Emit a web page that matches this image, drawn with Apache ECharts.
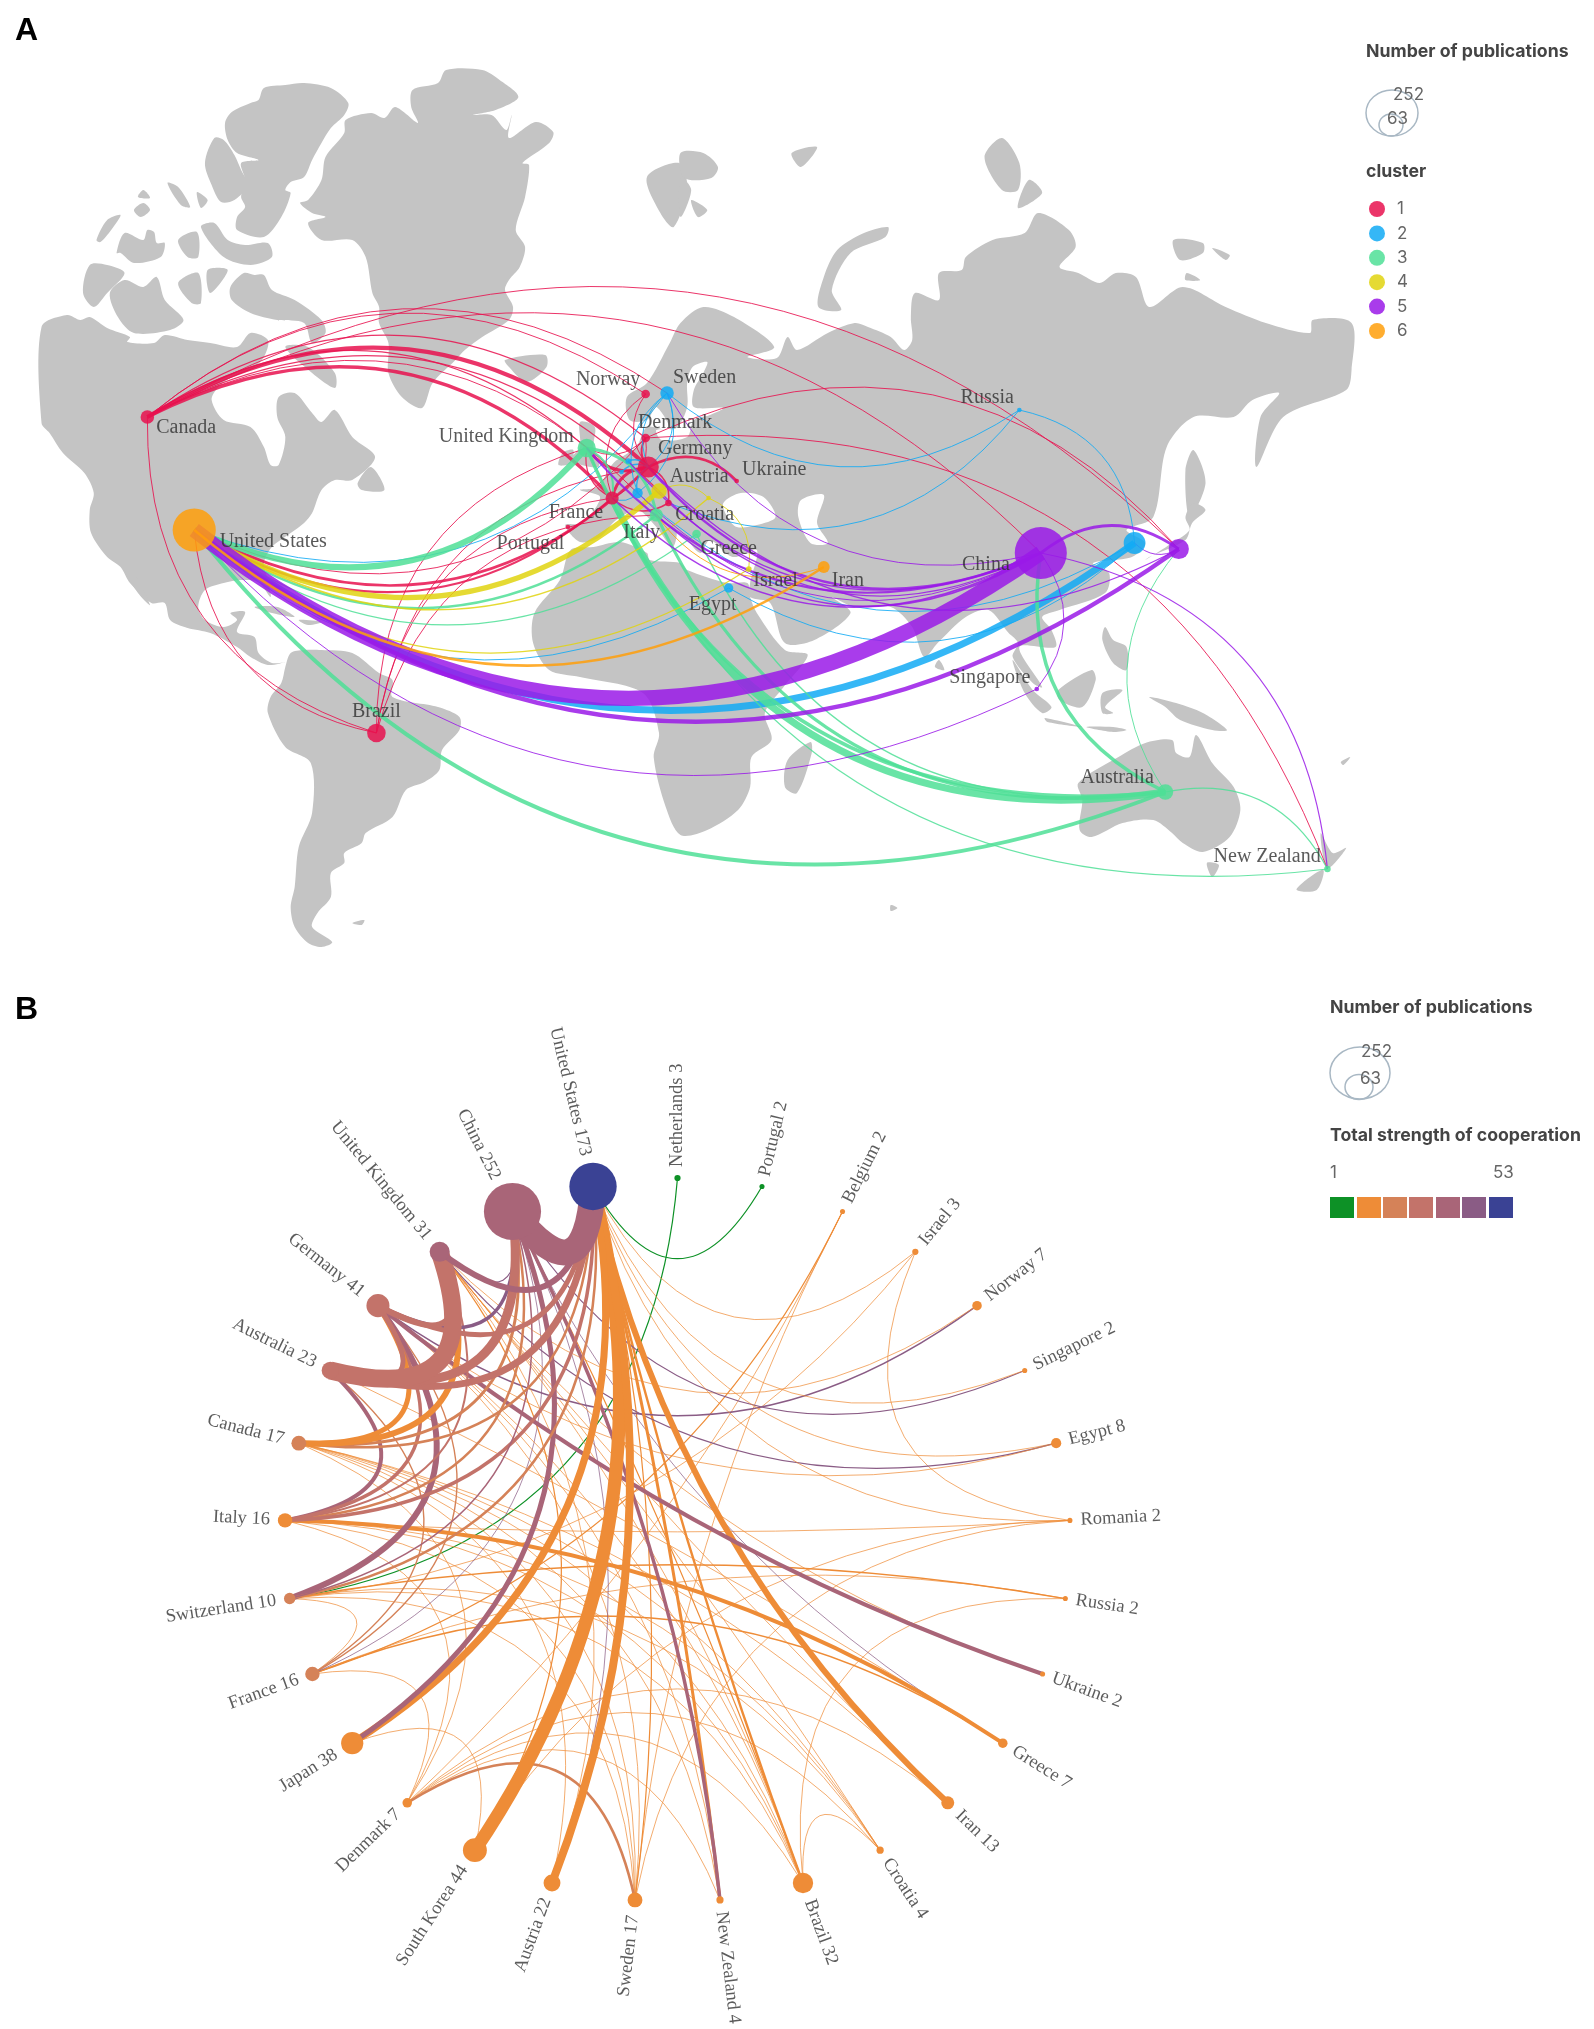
<!DOCTYPE html>
<html lang="en">
<head>
    <meta charset="UTF-8">
    <title>Country cooperation map and circle network</title>
    <script src="https://cdn.jsdelivr.net/npm/echarts@6/dist/echarts.min.js"></script>
    <style>
        html, body { margin: 0; padding: 0; background: #fff; }
        #main { width: 1594px; height: 2029px; }
    </style>
</head>
<body>
<div id="main"></div>
<script>
    // publications per country, clockwise from the top of the circle in panel B
    const countries = ['Netherlands', 'Portugal', 'Belgium', 'Israel', 'Norway', 'Singapore', 'Egypt', 'Romania', 'Russia', 'Ukraine',
        'Greece', 'Iran', 'Croatia', 'Brazil', 'New Zealand', 'Sweden', 'Austria', 'South Korea', 'Denmark', 'Japan',
        'France', 'Switzerland', 'Italy', 'Canada', 'Australia', 'Germany', 'United Kingdom', 'China', 'United States'];
    const publications = [3, 2, 2, 3, 7, 2, 8, 2, 2, 2, 7, 13, 4, 32, 4, 17, 22, 44, 7, 38, 16, 10, 16, 17, 23, 41, 31, 252, 173];
    const nodeStrengthBin = [0, 0, 1, 1, 1, 1, 1, 1, 1, 1, 1, 1, 1, 1, 1, 1, 1, 1, 1, 1, 2, 2, 1, 2, 3, 3, 4, 4, 6];

    // panel A: map units, x runs 0-1190 and y 0-1000 over the top part of the page
    const mapNames = ['Canada', 'United States', 'Brazil', 'United Kingdom', 'Germany', 'France', 'Norway', 'Sweden', 'Denmark', 'Netherlands',
        'Belgium', 'Switzerland', 'Austria', 'Croatia', 'Ukraine', 'Romania', 'Italy', 'Greece', 'Israel', 'Egypt',
        'Portugal', 'Iran', 'China', 'South Korea', 'Japan', 'Singapore', 'Russia', 'Australia', 'New Zealand'];
    const mapX = [110, 145, 281, 438, 484, 457, 482, 498, 482, 469, 464, 476, 492, 499, 550, 529, 490, 520, 559, 544, 424, 615, 777, 847, 880, 774, 761, 870, 991];
    const mapY = [417, 530, 733, 448, 467, 498, 394, 393, 438, 461, 472, 493, 491, 503, 481, 498, 515, 534, 569, 588, 527, 567, 553, 543, 549, 689, 410, 792, 869];
    const mapCluster = [1, 6, 1, 3, 1, 1, 1, 2, 1, 2, 2, 2, 4, 1, 1, 4, 3, 3, 4, 2, 1, 6, 5, 2, 5, 5, 2, 3, 3];
    const clusterNames = ['1', '2', '3', '4', '5', '6'];
    const clusterColors = ['#e8124f', '#12aaf5', '#4fdf96', '#e0d30f', '#9a1ae8', '#ff9f0a'];

    const mapLabelNames = ['Canada', 'United States', 'Brazil', 'United Kingdom', 'Norway', 'Sweden', 'Denmark', 'Germany', 'Austria', 'Ukraine', 'France', 'Portugal',
        'Italy', 'Croatia', 'Greece', 'Israel', 'Iran', 'Egypt', 'China', 'Russia', 'Singapore', 'Australia', 'New Zealand'];
    const mapLabelX = [139, 204, 281, 378, 454, 526, 504, 519, 522, 578, 430, 396, 479, 526, 544, 579, 633, 532, 736, 737, 739, 834, 946];
    const mapLabelY = [428, 542, 712, 437, 380, 378, 423, 449, 477, 470, 513, 544, 533, 515, 549, 581, 581, 605, 565, 398, 678, 778, 857];

    // panel A links: from, to, width, cluster. the arc bulges to the left of the travel direction
    const mapLinks = [
        ['Canada', 'Japan', 1, 1], ['Canada', 'China', 1, 1], ['Denmark', 'New Zealand', 1, 1], ['Denmark', 'Japan', 1, 1],
        ['Canada', 'Norway', 1, 1], ['Canada', 'Sweden', 1, 1], ['Canada', 'Denmark', 1.2, 1], ['Canada', 'United Kingdom', 1.2, 1],
        ['Canada', 'Switzerland', 1, 1], ['Canada', 'Austria', 1.2, 1], ['Canada', 'Germany', 4, 1], ['Canada', 'France', 3.2, 1],
        ['Brazil', 'Germany', 1, 1], ['Brazil', 'France', 1, 1], ['Brazil', 'United Kingdom', 1, 1], ['Brazil', 'Italy', 1, 1],
        ['Brazil', 'United States', 1, 1], ['Brazil', 'Canada', 1, 1],
        ['Germany', 'United Kingdom', 3, 1], ['France', 'Germany', 3, 1], ['Germany', 'Denmark', 2, 1], ['Germany', 'Ukraine', 2.6, 1],
        ['Germany', 'Norway', 1, 1], ['France', 'Norway', 1, 1], ['France', 'United Kingdom', 1.2, 1], ['Denmark', 'United Kingdom', 1, 1],
        ['Croatia', 'France', 1.5, 1], ['Germany', 'Croatia', 1.5, 1], ['Denmark', 'France', 1, 1],
        ['Germany', 'United States', 2.6, 1], ['France', 'United States', 2.2, 1], ['Denmark', 'United States', 1, 1],
        ['Germany', 'Sweden', 1, 2], ['Sweden', 'Germany', 1, 2], ['Switzerland', 'Sweden', 1, 2], ['Sweden', 'Switzerland', 1, 2],
        ['Netherlands', 'Germany', 1.4, 2], ['Belgium', 'Germany', 1.4, 2], ['Switzerland', 'Germany', 1.4, 2], ['Switzerland', 'France', 1, 2],
        ['Sweden', 'United States', 1, 2], ['Egypt', 'United States', 1, 2], ['South Korea', 'Egypt', 1, 2], ['South Korea', 'Switzerland', 1, 2],
        ['Russia', 'South Korea', 1, 2], ['Russia', 'Sweden', 1, 2], ['Russia', 'Croatia', 1, 2], ['South Korea', 'United States', 7, 2],
        ['United Kingdom', 'United States', 6, 3], ['United Kingdom', 'Italy', 3, 3], ['United Kingdom', 'France', 2, 3],
        ['Australia', 'United Kingdom', 3.5, 3], ['Australia', 'Italy', 3, 3], ['Australia', 'France', 7, 3], ['Australia', 'Greece', 1.5, 3],
        ['New Zealand', 'United Kingdom', 1.2, 3], ['Australia', 'United States', 4, 3], ['Italy', 'United States', 2.4, 3], ['Greece', 'United States', 1.2, 3],
        ['Australia', 'China', 3.5, 3], ['Australia', 'Japan', 1, 3], ['Australia', 'New Zealand', 1.2, 3],
        ['Austria', 'United States', 5, 4], ['Romania', 'United States', 1.5, 4], ['Israel', 'United States', 1.2, 4], ['Austria', 'Romania', 1, 4], ['Romania', 'Israel', 1, 4],
        ['China', 'Germany', 2.5, 5], ['China', 'United Kingdom', 2, 5], ['China', 'France', 1.5, 5], ['China', 'Italy', 1.5, 5], ['China', 'Austria', 1.2, 5],
        ['China', 'Switzerland', 1, 5], ['China', 'Sweden', 1, 5], ['China', 'Netherlands', 1.2, 5], ['Japan', 'Germany', 1.2, 5],
        ['China', 'Japan', 3, 5], ['China', 'Singapore', 1, 5], ['China', 'New Zealand', 1.2, 5], ['Japan', 'South Korea', 1, 5],
        ['Singapore', 'United States', 1, 5], ['Japan', 'United States', 4.5, 5], ['China', 'United States', 15, 5],
        ['Iran', 'Italy', 1, 6], ['Iran', 'United States', 2.6, 6]
    ];

    // land outlines in map units
    const landShapes = [
        [[230,200],[240,180],[243,157],[257,133],[258,120],[277,113],[287,118],[295,107],[312,123],[307,107],[308,90],[327,83],[333,70],[360,70],[373,80],[387,97],[370,110],[353,115],[367,115],[378,130],[382,115],[380,138],[400,122],[413,132],[410,143],[390,163],[395,165],[392,197],[385,230],[392,247],[388,267],[380,280],[377,290],[383,307],[380,320],[360,337],[347,350],[340,360],[323,383],[315,408],[300,397],[290,373],[290,343],[283,323],[283,307],[278,293],[273,257],[263,240],[240,240],[230,223],[243,217],[233,213],[224,203]],
        [[168,123],[173,112],[187,103],[193,100],[197,88],[213,85],[227,83],[247,88],[260,103],[257,115],[247,128],[240,143],[233,160],[227,177],[217,182],[213,190],[217,193],[210,217],[197,237],[177,230],[177,217],[183,207],[180,197],[183,180],[180,163],[193,160],[177,153],[170,140]],
        [[153,163],[160,138],[167,140],[175,155],[180,170],[185,185],[175,200],[165,202],[158,185]],
        [[72,240],[80,220],[90,215],[83,230],[75,242]],
        [[87,253],[93,233],[107,240],[110,230],[115,232],[117,243],[123,243],[120,257],[100,263],[90,253]],
        [[133,240],[147,232],[148,257],[140,257]],
        [[150,227],[160,223],[170,240],[183,245],[200,243],[203,257],[187,265],[167,257]],
        [[125,183],[133,187],[142,207],[135,205]],
        [[147,192],[155,200],[150,208]],
        [[100,210],[107,203],[112,210],[105,217]],
        [[103,197],[107,190],[112,198]],
        [[62,293],[67,265],[80,265],[93,273],[80,293],[70,307]],
        [[82,293],[93,280],[107,287],[117,277],[123,300],[137,320],[127,330],[100,333],[88,317]],
        [[133,283],[148,273],[150,303],[143,303]],
        [[155,270],[170,270],[157,293]],
        [[172,287],[182,273],[190,275],[197,275],[203,290],[220,300],[240,320],[243,333],[233,343],[227,323],[207,320],[187,313],[173,300]],
        [[213,347],[230,347],[250,373],[250,388],[233,373]],
        // North America
        [[31,327],[50,315],[60,320],[67,317],[80,328],[97,337],[95,342],[115,343],[123,335],[140,340],[157,343],[177,347],[187,333],[200,340],[197,357],[187,370],[173,377],[163,387],[158,400],[167,420],[187,427],[197,447],[202,465],[208,465],[213,437],[207,417],[208,397],[220,393],[233,413],[240,422],[250,410],[263,437],[280,457],[263,480],[250,480],[240,490],[233,513],[227,523],[217,533],[203,547],[197,563],[200,580],[202,597],[193,582],[180,580],[167,583],[153,590],[148,607],[153,620],[167,627],[177,620],[172,613],[183,612],[177,632],[190,637],[193,653],[203,663],[213,662],[200,665],[187,657],[177,647],[157,633],[140,628],[127,620],[123,603],[113,603],[97,583],[90,567],[80,557],[68,533],[67,510],[70,493],[63,473],[47,453],[37,433],[31,423]],
        [[93,570],[100,573],[112,605],[103,593]],
        [[267,483],[277,467],[287,490],[270,490]],
        [[377,360],[407,355],[408,367],[393,382],[380,367]],
        [[190,607],[207,607],[220,617],[200,612]],
        [[223,620],[240,622],[230,625]],
        // South America
        [[217,653],[227,650],[240,650],[263,653],[283,673],[293,680],[293,697],[327,707],[343,717],[343,730],[330,750],[328,770],[317,782],[303,790],[293,817],[273,833],[270,843],[257,853],[257,863],[247,873],[247,897],[237,913],[233,927],[248,942],[240,947],[230,943],[220,927],[217,907],[220,887],[223,847],[233,813],[232,763],[213,747],[200,713],[202,697],[210,683],[213,667]],
        [[263,923],[272,920],[270,925]],
        // Africa
        [[399,613],[418,580],[426,550],[443,547],[463,542],[483,553],[485,560],[508,563],[513,570],[543,583],[558,583],[560,597],[565,613],[586,650],[603,655],[585,687],[571,713],[576,740],[561,757],[560,787],[551,810],[528,830],[508,835],[497,807],[488,757],[492,733],[480,693],[433,677],[410,670],[398,643]],
        [[605,742],[606,753],[595,793],[586,787],[588,760]],
        // Eurasia
        [[422,525],[433,542],[448,537],[460,520],[476,510],[490,527],[502,547],[505,530],[493,513],[513,540],[523,553],[530,540],[547,557],[565,550],[560,583],[560,597],[575,603],[586,643],[608,640],[635,613],[621,597],[638,607],[665,607],[681,627],[690,657],[700,643],[721,617],[738,610],[753,633],[760,643],[756,657],[771,683],[778,687],[761,647],[788,647],[785,630],[778,617],[791,610],[825,593],[828,573],[816,563],[845,557],[855,543],[841,530],[861,517],[871,447],[891,417],[921,417],[935,400],[955,393],[941,417],[938,467],[958,417],[1005,390],[1009,370],[1009,323],[980,320],[978,333],[945,323],[915,307],[883,287],[858,307],[848,277],[833,273],[821,283],[805,273],[791,267],[803,247],[798,230],[775,213],[765,233],[741,240],[721,257],[718,270],[701,273],[701,300],[683,293],[680,317],[681,340],[675,350],[665,337],[648,327],[638,323],[618,333],[595,350],[588,337],[580,358],[558,357],[578,347],[548,317],[525,307],[508,323],[500,343],[483,383],[468,397],[470,420],[483,420],[490,407],[500,430],[483,427],[475,447],[458,463],[446,487],[433,490],[448,497],[435,523]],
        [[433,422],[444,427],[443,447],[447,467],[426,460],[433,447]],
        [[420,453],[428,450],[426,463],[417,465]],
        [[483,177],[507,163],[513,187],[503,227],[493,213]],
        [[508,153],[525,153],[536,167],[531,178],[511,178]],
        [[508,177],[516,190],[508,217]],
        [[516,200],[528,210],[521,217]],
        [[591,153],[610,147],[598,167]],
        [[663,227],[661,237],[635,253],[621,290],[628,310],[611,307],[615,277],[625,250],[645,233]],
        [[748,138],[761,163],[760,190],[748,190],[735,157]],
        [[768,180],[778,193],[760,208]],
        [[876,240],[898,243],[898,253],[881,260]],
        [[905,248],[918,255],[915,260]],
        [[886,273],[896,280],[885,280]],
        [[891,450],[900,483],[888,517],[885,470]],
        [[900,510],[891,503],[885,517],[888,530],[875,543],[855,560],[858,557],[885,540],[890,523]],
        [[825,627],[831,640],[841,647],[841,670],[831,663],[823,640]],
        [[815,670],[818,680],[808,707],[791,700],[790,690]],
        [[756,660],[771,690],[785,707],[778,713],[765,693]],
        [[780,718],[808,727],[782,722]],
        [[823,693],[838,690],[825,707],[831,713],[823,713]],
        [[858,697],[878,703],[898,713],[916,730],[905,730],[881,720],[870,707]],
        [[811,727],[831,727],[841,730],[831,732]],
        [[701,660],[705,670],[698,667]],
        // Australia and around
        [[805,783],[835,757],[855,743],[875,740],[878,753],[888,757],[893,735],[905,763],[921,787],[926,810],[918,837],[898,852],[883,843],[875,833],[861,820],[838,823],[815,837],[806,830],[808,800]],
        [[901,863],[910,865],[905,877]],
        [[986,833],[995,853],[1005,848],[991,868]],
        [[988,870],[983,890],[968,890],[975,880]],
        [[1001,762],[1008,757],[1003,765]],
        [[665,905],[670,908],[665,911]]
    ];
    // inland seas cut out of the land
    const waterShapes = [
        [[517,367],[528,362],[525,373],[518,390],[518,407],[540,408],[530,415],[518,420],[513,437],[494,440],[490,430],[505,428],[513,407],[513,383]],
        [[540,503],[553,493],[570,497],[579,517],[565,525],[550,527],[543,517]],
        [[598,500],[615,495],[610,523],[618,543],[605,543],[596,517]]
    ];

    // panel B links: a, b, width, colour bin of strengthColors
    const strengthColors = ['#0d9126', '#ee8c37', '#d58258', '#c3736a', '#a96578', '#8a5c85', '#3a4294'];
    const strengthLinks = [
        ['Portugal', 'United States', 1.2, 0], ['Netherlands', 'Switzerland', 1.2, 0],
        ['Canada', 'Croatia', 1, 1], ['Canada', 'Brazil', 1, 1], ['Canada', 'New Zealand', 1, 1], ['Canada', 'Denmark', 1, 1], ['Canada', 'Sweden', 1, 1],
        ['Canada', 'Austria', 1, 1], ['Canada', 'Iran', 1, 1],
        ['Italy', 'Croatia', 1, 1], ['Italy', 'Sweden', 1, 1], ['Italy', 'Denmark', 1, 1], ['Italy', 'Brazil', 1, 1], ['Italy', 'Romania', 1, 1],
        ['Switzerland', 'France', 1, 1], ['Switzerland', 'Russia', 1.4, 1], ['Switzerland', 'Sweden', 1, 1], ['Switzerland', 'Brazil', 1, 1],
        ['Switzerland', 'Croatia', 1, 1], ['Switzerland', 'Israel', 1, 1],
        ['France', 'Denmark', 1, 1], ['France', 'Russia', 1, 1], ['France', 'Greece', 1.4, 1], ['France', 'Belgium', 1.2, 1],
        ['France', 'Germany', 1.4, 2], ['France', 'Australia', 1.4, 2], ['France', 'China', 1, 5],
        ['Japan', 'South Korea', 1, 1],
        ['Denmark', 'New Zealand', 1, 1], ['Denmark', 'Brazil', 1, 1], ['Denmark', 'Croatia', 1, 1], ['Denmark', 'Iran', 1, 1],
        ['Denmark', 'Sweden', 2.6, 2], ['Denmark', 'Belgium', 1, 1],
        ['Croatia', 'Brazil', 1, 1], ['Croatia', 'United Kingdom', 1, 1],
        ['Sweden', 'Germany', 1, 1], ['Sweden', 'Romania', 1, 1], ['Sweden', 'United States', 1.2, 1],
        ['Brazil', 'Germany', 1, 1], ['Brazil', 'United Kingdom', 1, 1], ['Brazil', 'China', 1.2, 1], ['Brazil', 'Russia', 1, 1], ['Brazil', 'United States', 2.4, 1],
        ['Israel', 'United States', 1, 1], ['Israel', 'Romania', 1, 1], ['Belgium', 'Sweden', 1, 1],
        ['Norway', 'Germany', 1.4, 5], ['Norway', 'United Kingdom', 1, 1],
        ['Singapore', 'China', 1.2, 5], ['Singapore', 'United States', 1, 1],
        ['Egypt', 'United States', 1, 1], ['Egypt', 'United Kingdom', 1.2, 5], ['Egypt', 'Germany', 1, 1],
        ['Romania', 'United States', 1, 1], ['Romania', 'South Korea', 1, 1],
        ['Greece', 'China', 1, 5], ['Greece', 'Australia', 1, 1], ['Iran', 'United Kingdom', 1, 1], ['New Zealand', 'Germany', 1, 1],
        ['Austria', 'United Kingdom', 1, 1], ['Austria', 'China', 1, 5],
        ['Ukraine', 'United Kingdom', 1, 1], ['South Korea', 'United Kingdom', 1.2, 1],
        ['Greece', 'Italy', 4, 1], ['United States', 'Iran', 6, 1], ['United States', 'New Zealand', 3, 1],
        ['China', 'New Zealand', 3.5, 4], ['Germany', 'Ukraine', 4, 4],
        ['United States', 'South Korea', 13, 1], ['United States', 'Austria', 8, 1], ['United States', 'Japan', 7, 1],
        ['China', 'Japan', 5, 4], ['Germany', 'Switzerland', 6, 4], ['United States', 'Switzerland', 2.5, 2],
        ['United Kingdom', 'Italy', 2, 3], ['China', 'Italy', 2.5, 2], ['Australia', 'Italy', 4, 4], ['Germany', 'Italy', 3.5, 3], ['United States', 'Italy', 3.5, 3],
        ['China', 'Switzerland', 1.5, 4], ['United States', 'Canada', 2.5, 2], ['China', 'Canada', 3, 2], ['United Kingdom', 'Canada', 6, 1], ['Germany', 'Canada', 5, 1],
        ['China', 'United Kingdom', 1.2, 5], ['China', 'Germany', 3.5, 5], ['United States', 'Germany', 5, 3], ['Germany', 'Australia', 5, 3],
        ['United States', 'Australia', 7, 3], ['China', 'Australia', 9, 3], ['United Kingdom', 'Germany', 6, 3], ['United Kingdom', 'Australia', 18, 3],
        ['United Kingdom', 'United States', 6, 4], ['United States', 'China', 26, 4]
    ];

    const legendScaleColor = '#a9b8c4';
    const serif = '"Liberation Serif", serif';
    const sans = 'Inter, "Liberation Sans", sans-serif';

    // size on the page of the circle in panel B
    const CX = 677.5, CY = 1540, RX = 393, RY = 362;
    const STEP = 2 * Math.PI / countries.length;
    const unitX = i => Math.cos(-Math.PI / 2 + i * STEP);
    const unitY = i => Math.sin(-Math.PI / 2 + i * STEP);
    const pubsOf = name => publications[countries.indexOf(name)];
    const sizeB = i => 3.6 * Math.sqrt(publications[i]);

    // curve towards the middle of the circle, the longer the link the closer it gets
    function linkCurve(a, b) {
        const x1 = CX + RX * unitX(a), y1 = CY + RY * unitY(a);
        const x2 = CX + RX * unitX(b), y2 = CY + RY * unitY(b);
        const mx = (x1 + x2) / 2, my = (y1 + y2) / 2;
        const l2 = (x2 - x1) * (x2 - x1) + (y2 - y1) * (y2 - y1);
        const k = 0.2 + 0.95 * Math.sqrt(l2) / 770;
        return k * ((CX - mx) * (y2 - y1) + (CY - my) * (x1 - x2)) / l2;
    }

    const mapPoint = name => { const i = mapNames.indexOf(name); return [mapX[i], mapY[i]]; };

    const linesData = mapLinks.map(l => ({
        coords: [mapPoint(l[0]), mapPoint(l[1])],
        lineStyle: { color: clusterColors[l[3] - 1], width: l[2], curveness: 0.37, opacity: 0.85 }
    }));

    const clusterSeries = clusterNames.map((name, c) => ({
        name: name,
        type: 'scatter',
        xAxisIndex: 0,
        yAxisIndex: 0,
        z: 4,
        silent: true,
        itemStyle: { color: clusterColors[c], opacity: 0.85 },
        symbolSize: v => v[2],
        data: mapNames.map((n, i) => [mapX[i], mapY[i], 3.28 * Math.sqrt(pubsOf(n)), mapCluster[i]])
            .filter(d => d[3] === c + 1)
    }));

    const graphNodes = countries.map((name, i) => ({
        name: name,
        value: [unitX(i), unitY(i)],
        symbolSize: sizeB(i),
        itemStyle: { color: strengthColors[nodeStrengthBin[i]] }
    }));

    const graphLinks = strengthLinks.map(l => {
        const a = countries.indexOf(l[0]), b = countries.indexOf(l[1]);
        return {
            source: l[0],
            target: l[1],
            lineStyle: {
                width: l[2] <= 1 ? 0.9 : l[2],
                color: strengthColors[l[3]],
                opacity: l[2] <= 1 ? 0.8 : 1,
                curveness: linkCurve(a, b)
            }
        };
    });

    // rotated labels just outside each node of the circle
    const circleLabels = countries.map((name, i) => {
        const gap = sizeB(i) / 2 + 8;
        const px = RX * unitX(i), py = RY * unitY(i);
        const len = Math.sqrt(px * px + py * py);
        const deg = Math.atan2(py, px) * 180 / Math.PI;
        const rightSide = px >= -0.01;
        return {
            name: name + ' ' + publications[i],
            value: [unitX(i) * (1 + gap / len), unitY(i) * (1 + gap / len)],
            label: { position: rightSide ? 'right' : 'left', rotate: rightSide ? -deg : 180 - deg }
        };
    });

    function text(str, x, y, font, fill) {
        return { type: 'text', x: x, y: y, silent: true, style: { text: str, font: font, fill: fill, verticalAlign: 'middle' } };
    }
    function ring(cx, cy, rx, ry) {
        return { type: 'ellipse', silent: true, shape: { cx: cx, cy: cy, rx: rx, ry: ry }, style: { fill: 'none', stroke: legendScaleColor, lineWidth: 1.5 } };
    }
    const swatchX = [1330, 1357, 1383, 1409, 1436, 1462, 1489];
    const legendHead = '700 17.7px ' + sans, legendText = '17px ' + sans;
    const graphicItems = [
        text('A', 15, 31, 'bold 32px "Liberation Sans", sans-serif', '#000'),
        text('B', 15, 1010, 'bold 32px "Liberation Sans", sans-serif', '#000'),
        text('Number of publications', 1366, 52, legendHead, '#444'),
        ring(1392, 113, 26, 23), ring(1391, 125, 12, 11),
        text('252', 1393, 95, legendText, '#666'),
        text('63', 1387, 119, legendText, '#666'),
        text('cluster', 1366, 172, legendHead, '#444'),
        text('Number of publications', 1330, 1008, legendHead, '#444'),
        ring(1360, 1073, 30, 26), ring(1359, 1087, 14, 12.5),
        text('252', 1361, 1052, legendText, '#666'),
        text('63', 1360, 1079, legendText, '#666'),
        text('Total strength of cooperation', 1330, 1136, legendHead, '#444'),
        text('1', 1330, 1173, legendText, '#666'),
        text('53', 1493, 1173, legendText, '#666')
    ].concat(strengthColors.map((c, i) => ({
        type: 'rect', silent: true,
        shape: { x: swatchX[i], y: 1197, width: 24, height: 21 },
        style: { fill: c }
    })));

    const myChart = echarts.init(document.getElementById('main'));
    const option = {
        animation: false,
        backgroundColor: '#fff',
        grid: [
            { left: 0, top: 0, width: 1594, height: 1000 },
            { left: CX - RX, top: CY - RY, width: 2 * RX, height: 2 * RY }
        ],
        xAxis: [
            { type: 'value', gridIndex: 0, min: 0, max: 1190, show: false },
            { type: 'value', gridIndex: 1, min: -1, max: 1, show: false }
        ],
        yAxis: [
            { type: 'value', gridIndex: 0, min: 0, max: 1000, inverse: true, show: false },
            { type: 'value', gridIndex: 1, min: -1, max: 1, inverse: true, show: false }
        ],
        legend: {
            data: clusterNames,
            orient: 'vertical',
            left: 1369,
            top: 200.5,
            padding: 0,
            icon: 'circle',
            itemWidth: 18,
            itemHeight: 16,
            itemGap: 7.4,
            selectedMode: false,
            textStyle: { fontFamily: sans, fontSize: 17, color: '#666', padding: [0, 0, 0, 6] }
        },
        graphic: { elements: graphicItems },
        series: [
            {
                type: 'custom',
                xAxisIndex: 0,
                yAxisIndex: 0,
                silent: true,
                z: 1,
                data: landShapes.map(() => [0, 0]),
                renderItem: (params, api) => ({
                    type: 'polygon',
                    shape: { points: landShapes[params.dataIndex].map(p => api.coord(p)), smooth: 0.3 },
                    style: { fill: '#c4c4c4' }
                })
            },
            {
                type: 'custom',
                xAxisIndex: 0,
                yAxisIndex: 0,
                silent: true,
                z: 2,
                data: waterShapes.map(() => [0, 0]),
                renderItem: (params, api) => ({
                    type: 'polygon',
                    shape: { points: waterShapes[params.dataIndex].map(p => api.coord(p)), smooth: 0.3 },
                    style: { fill: '#fff' }
                })
            },
            {
                type: 'lines',
                coordinateSystem: 'cartesian2d',
                xAxisIndex: 0,
                yAxisIndex: 0,
                silent: true,
                z: 3,
                data: linesData
            }
        ].concat(clusterSeries).concat([
            {
                type: 'scatter',
                xAxisIndex: 0,
                yAxisIndex: 0,
                silent: true,
                z: 5,
                symbolSize: 0,
                label: {
                    show: true,
                    position: 'inside',
                    formatter: p => p.name,
                    fontFamily: serif,
                    fontSize: 20,
                    color: '#2f2f2f'
                },
                data: mapLabelNames.map((n, i) => ({ name: n, value: [mapLabelX[i], mapLabelY[i]] }))
            },
            {
                type: 'graph',
                layout: 'none',
                coordinateSystem: 'cartesian2d',
                xAxisIndex: 1,
                yAxisIndex: 1,
                silent: true,
                z: 3,
                edgeSymbol: ['none', 'none'],
                data: graphNodes,
                links: graphLinks
            },
            {
                type: 'scatter',
                xAxisIndex: 1,
                yAxisIndex: 1,
                silent: true,
                clip: false,
                z: 5,
                symbolSize: 0,
                label: {
                    show: true,
                    distance: 0,
                    formatter: p => p.name,
                    fontFamily: serif,
                    fontSize: 18.5,
                    color: '#333'
                },
                data: circleLabels
            }
        ])
    };
    myChart.setOption(option);
</script>
</body>
</html>
